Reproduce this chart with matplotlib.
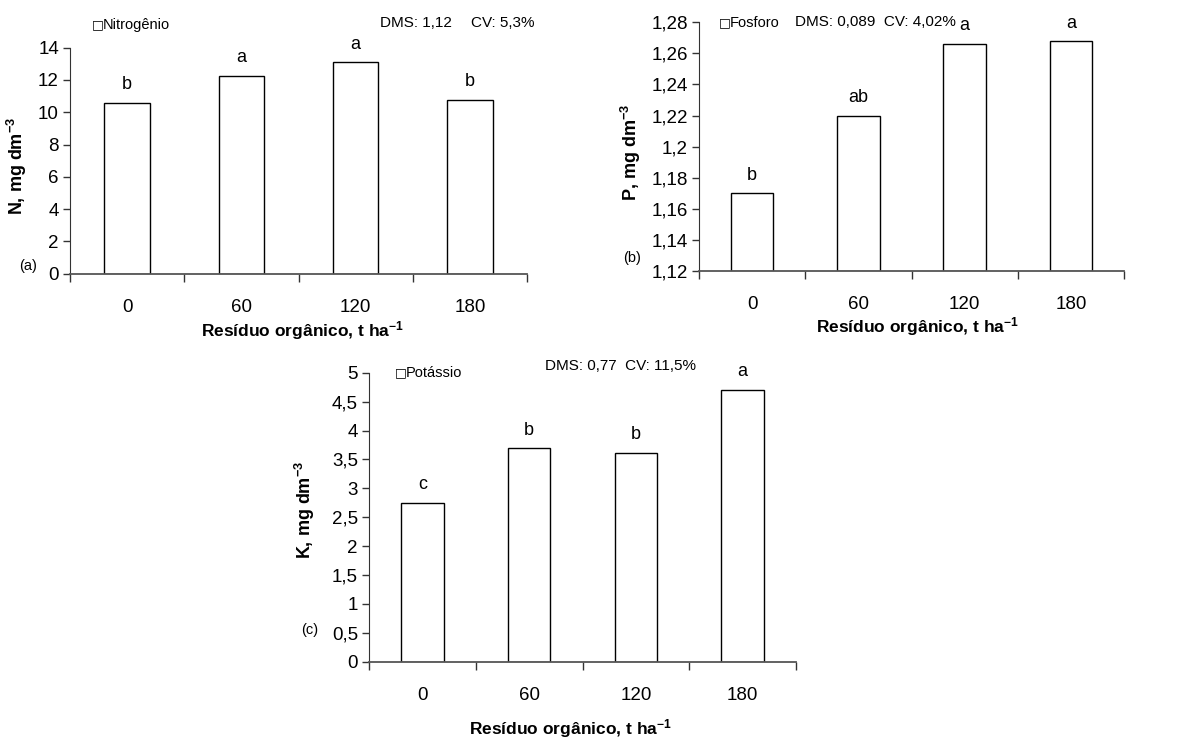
import matplotlib
matplotlib.use("Agg")
import matplotlib.pyplot as plt
from matplotlib.ticker import FuncFormatter

plt.rcParams['font.family'] = ['Liberation Sans', 'DejaVu Sans']
plt.rcParams['mathtext.fontset'] = 'custom'
plt.rcParams['mathtext.rm'] = 'Liberation Sans'
plt.rcParams['mathtext.bf'] = 'Liberation Sans:bold'

categories = ["0", "60", "120", "180"]

n_values = [10.6, 12.25, 13.1, 10.76]
n_letters = ["b", "a", "a", "b"]
p_values = [1.170, 1.220, 1.2663, 1.2678]
p_letters = ["b", "ab", "a", "a"]
k_values = [2.75, 3.69, 3.61, 4.70]
k_letters = ["c", "b", "b", "a"]

n_yticks = [0, 2, 4, 6, 8, 10, 12, 14]
p_yticks = [1.12, 1.14, 1.16, 1.18, 1.2, 1.22, 1.24, 1.26, 1.28]
k_yticks = [0, 0.5, 1, 1.5, 2, 2.5, 3, 3.5, 4, 4.5, 5]

fig = plt.figure(figsize=(11.81, 7.40), dpi=100)
W, H = 1181, 740


def px_axes(l, r, t, b):
    return fig.add_axes([l / W, 1 - b / H, (r - l) / W, (b - t) / H])


def comma(v, pos):
    s = ("%g" % round(v, 4))
    return s.replace(".", ",")


def ftext(x, y, s, **kw):
    kw.setdefault("va", "center")
    fig.text(x / W, 1 - y / H, s, **kw)


def style(ax, vals, letters, yticks, bottom_base):
    xs = list(range(len(categories)))
    heights = [v - bottom_base for v in vals]
    ax.bar(xs, heights, bottom=bottom_base, width=0.40, color="white",
           edgecolor="black", linewidth=1.0, zorder=2)
    for x, v, l in zip(xs, vals, letters):
        ax.annotate(l, (x, v), xytext=(0, 7), textcoords="offset points",
                    ha="center", va="bottom", fontsize=13)
    ax.set_xlim(-0.5, len(categories) - 0.5)
    ax.set_ylim(yticks[0], yticks[-1])
    ax.set_yticks(yticks)
    ax.yaxis.set_major_formatter(FuncFormatter(comma))
    ax.set_xticks([i - 0.5 for i in range(len(categories) + 1)])
    ax.set_xticklabels([])
    ax.set_xticks(xs, minor=True)
    ax.set_xticklabels(categories, minor=True)
    ax.tick_params(axis="x", which="major", direction="out", length=6, width=1, color="#333333")
    ax.tick_params(axis="x", which="minor", length=0, pad=18, labelsize=13.5)
    ax.tick_params(axis="y", direction="out", length=5, width=1, color="#333333", labelsize=13.5, pad=3)
    for s in ["top", "right"]:
        ax.spines[s].set_visible(False)
    ax.spines["left"].set_color("#333333")
    ax.spines["bottom"].set_color("#555555")
    ax.spines["bottom"].set_linewidth(1.3)
    ax.patch.set_alpha(0)


# Panel (a)
axa = px_axes(70, 527, 47.7, 273.7)
style(axa, n_values, n_letters, n_yticks, 0)
# Panel (b)
axb = px_axes(699, 1124, 22.3, 271)
style(axb, p_values, p_letters, p_yticks, 1.12)
# Panel (c)
axc = px_axes(369, 796, 372.7, 661.7)
style(axc, k_values, k_letters, k_yticks, 0)

# y labels
ylab_kw = dict(fontsize=13, fontweight="bold", rotation=90, ha="center")
ftext(17, 166, r"N, mg dm$\mathbf{^{-3}}$", **ylab_kw)
ftext(631, 152, r"P, mg dm$\mathbf{^{-3}}$", **ylab_kw)
ftext(305, 510, r"K, mg dm$\mathbf{^{-3}}$", **ylab_kw)

# x labels
xlab = r"Resíduo orgânico, t ha$\mathbf{^{-1}}$"
xlab_kw = dict(fontsize=12.5, fontweight="bold", ha="center")
ftext(302, 331, xlab, **xlab_kw)
ftext(917, 327, xlab, **xlab_kw)
ftext(570, 729, xlab, **xlab_kw)

# legends with square marker
for (x, y, name) in [(92, 25, "Nitrogênio"), (719, 23, "Fosforo"), (395, 373, "Potássio")]:
    ftext(x, y, "□", fontsize=9, family=["DejaVu Sans"])
    ftext(x + 11, y, name, fontsize=10.5)

ftext(380, 23, "DMS: 1,12", fontsize=11)
ftext(471, 23, "CV: 5,3%", fontsize=11)
ftext(795, 22, "DMS: 0,089  CV: 4,02%", fontsize=11)
ftext(545, 366, "DMS: 0,77  CV: 11,5%", fontsize=11)

ftext(19, 266, "(a)", fontsize=10.5)
ftext(623, 258, "(b)", fontsize=10.5)
ftext(301, 630, "(c)", fontsize=10.5)

fig.savefig("out.png", dpi=100)
